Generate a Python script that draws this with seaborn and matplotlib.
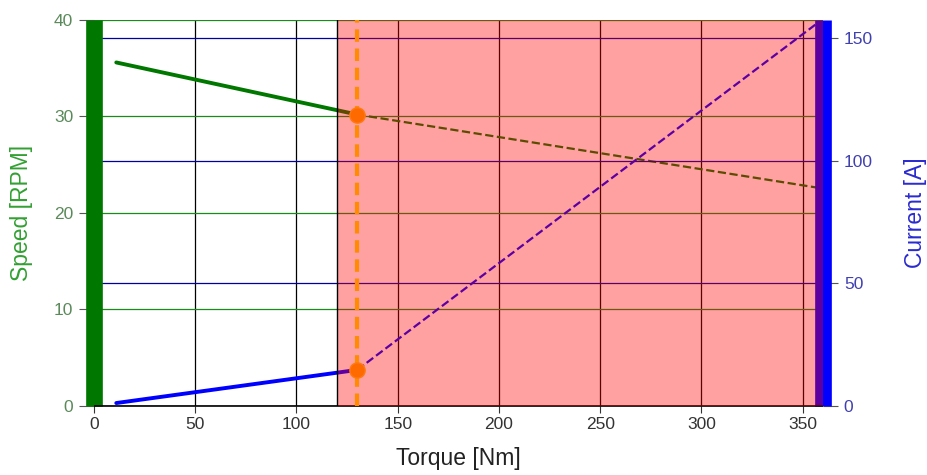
import numpy as np
import pandas as pd
import matplotlib
matplotlib.use("Agg")
import matplotlib.pyplot as plt
import seaborn as sns

# speed / current vs torque
torque_ok = [11, 130]
speed_ok = [35.6, 30.2]
current_ok = [1.2, 14.7]

torque_over = [130, 358]
speed_over = [30.2, 22.6]
current_over = [14.7, 156.5]

op_torque = 130          # operating point
op_speed = 30.2
op_current = 14.7
limit_torque = 120       # start of the overload zone

x_ticks = [0, 50, 100, 150, 200, 250, 300, 350]
speed_ticks = [0, 10, 20, 30, 40]
current_ticks = [0, 50, 100, 150]

GREEN = "#007800"
BLUE = "#0000ff"

sns.set_style("white")
plt.rcParams["font.family"] = ["Liberation Sans", "DejaVu Sans"]

fig = plt.figure(figsize=(9.27, 4.75), dpi=100)
ax = fig.add_axes([0.1014, 0.1453, 0.7864, 0.8126])
ax2 = ax.twinx()

ax.set_xlim(0, 360)
ax.set_ylim(0, 40)
ax2.set_ylim(0, 157.3)

# grid
ax.set_xticks(x_ticks)
ax.set_yticks(speed_ticks)
ax2.set_yticks(current_ticks)
ax.grid(axis="x", color="black", lw=0.9)
ax.grid(axis="y", color="#1a8a1a", lw=0.9)
ax2.grid(axis="y", color="#0000a0", lw=0.9)
ax.set_axisbelow(True)

# solid parts
sns.lineplot(x=torque_ok, y=speed_ok, ax=ax, color=GREEN, lw=2.8, zorder=2)
sns.lineplot(x=torque_ok, y=current_ok, ax=ax2, color=BLUE, lw=2.8, zorder=2)
# overload parts
sns.lineplot(x=torque_over, y=speed_over, ax=ax, color=GREEN, lw=1.6,
             linestyle="--", dashes=(3.5, 1.8), zorder=2)
sns.lineplot(x=torque_over, y=current_over, ax=ax2, color=BLUE, lw=1.6,
             linestyle="--", dashes=(3.5, 1.8), zorder=2)

# overload zone, laid over lines
ax2.axvspan(limit_torque, 360, facecolor="red", alpha=0.37, lw=0, zorder=3)
ax2.axvline(limit_torque, color="black", lw=1, zorder=3.2)

# operating point
ax2.axvline(op_torque, color="#ff8c00", lw=3, linestyle=(0, (3, 1.6)), zorder=4)
ax2.plot([op_torque], [op_speed], "o", ms=11, color="#ff6a00", mec="#ff7a10",
         transform=ax.transData, zorder=5)
ax2.plot([op_torque], [op_current], "o", ms=11, color="#ff6a00", mec="#ff7a10", zorder=5)

# spines
for s in ["left", "right", "top", "bottom"]:
    ax.spines[s].set_visible(False)
ax2.spines["top"].set_visible(False)
ax2.spines["left"].set_color(GREEN)
ax2.spines["left"].set_linewidth(12)
ax2.spines["right"].set_color(BLUE)
ax2.spines["right"].set_linewidth(12)
ax2.spines["bottom"].set_color("black")
ax2.spines["bottom"].set_linewidth(1.2)
for s in ["left", "right", "bottom"]:
    ax2.spines[s].set_capstyle("butt")

ax.tick_params(axis="x", colors="#333333", labelsize=12.5, length=5, width=0.8,
               direction="out", bottom=True, pad=3)
ax.tick_params(axis="y", colors="#555555", labelcolor="#5a8a5a", labelsize=12.5,
               length=11, width=0.8, left=True, pad=4)
ax2.tick_params(axis="y", colors="#555555", labelcolor="#4040b0", labelsize=12.5,
                length=11, width=0.8, right=True, pad=4)

ax.set_xlabel("Torque [Nm]", fontsize=16.5, color="#222222", labelpad=11)
ax.set_ylabel("Speed [RPM]", fontsize=16.5, color="#33a033", labelpad=15)
ax2.set_ylabel("Current [A]", fontsize=16.5, color="#2a2ad0", labelpad=22)

fig.savefig("out.png", dpi=100)
